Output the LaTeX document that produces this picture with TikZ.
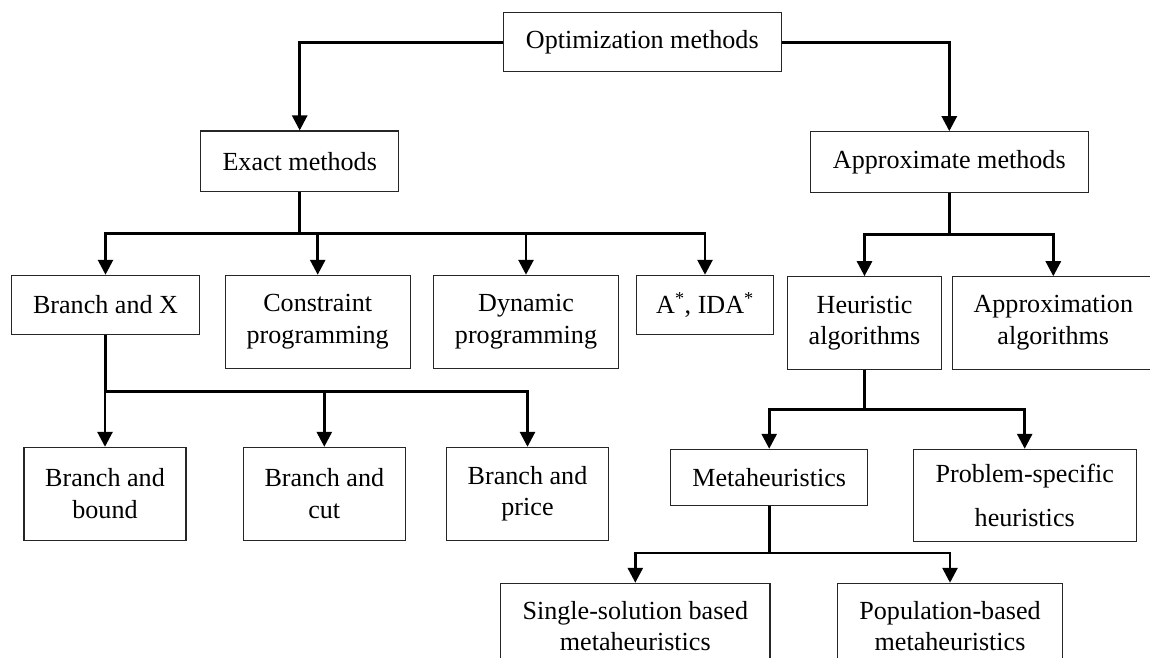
\documentclass[tikz,border=0pt]{standalone}
\usepackage{fontspec}
\setmainfont{Liberation Serif}
\usetikzlibrary{arrows.meta}
\begin{document}
\begin{tikzpicture}[x=1pt,y=-1pt,
  box/.style={draw=black!85, line width=1.1pt, inner sep=0pt, align=center,
              font=\fontsize{26.1}{31.5}\selectfont},
  link/.style={line width=2.8pt, line join=miter,
               -{Triangle[length=15pt,width=15pt]}}]
\useasboundingbox (0,0) rectangle (1150,657);
\clip (0,0) rectangle (1150,657);

% root and first level
\node[box, minimum width=278pt, minimum height=59pt]   (opt)    at (642.3,42.2) {Optimization methods};
\node[box, minimum width=198pt, minimum height=60.7pt] (exact)  at (299.7,161.3) {Exact methods};
\node[box, minimum width=278pt, minimum height=60.6pt] (approx) at (949.3,162) {Approximate methods};

% exact methods
\node[box, minimum width=187.6pt, minimum height=59pt] (bx)    at (105.5,304.8) {Branch and X};
\node[box, minimum width=184.7pt, minimum height=93pt] (cp)    at (317.7,321.8) {Constraint\\programming};
\node[box, minimum width=185.4pt, minimum height=93pt] (dp)    at (526,321.8) {Dynamic\\programming};
\node[box, minimum width=136.6pt, minimum height=59pt] (astar) at (705,304.8) {A\textsuperscript{*}, IDA\textsuperscript{*}};

% approximate methods
\node[box, minimum width=154.4pt, minimum height=92.6pt] (heur)   at (864.5,323) {Heuristic\\algorithms};
\node[box, minimum width=202pt,   minimum height=92.3pt] (apxalg) at (1053.3,322.9) {Approximation\\algorithms};

% branch and X family
\node[box, minimum width=162pt,   minimum height=92.7pt] (bb) at (105,493.7) {Branch and\\bound};
\node[box, minimum width=162pt,   minimum height=92.7pt] (bc) at (324.3,493.7) {Branch and\\cut};
\node[box, minimum width=161.6pt, minimum height=92.7pt] (bp) at (527.5,493.7) {Branch and\\price};

% heuristics
\node[box, minimum width=197pt,   minimum height=56pt]   (meta) at (769.2,477.3) {Metaheuristics};
\node[box, minimum width=222.7pt, minimum height=92.4pt] (psh)  at (1024.7,495.5) {Problem-specific\\[13pt]heuristics};

% metaheuristics (boxes run past the lower edge)
\node[box, minimum width=269.3pt, minimum height=86pt] (single) at (635.3,626.3) {Single-solution based\\metaheuristics};
\node[box, minimum width=225.4pt, minimum height=86pt] (pop)    at (950,626.3) {Population-based\\metaheuristics};

% connectors
\draw[link] (opt.west) -| (exact.north);
\draw[link] (opt.east) -| (approx.north);

\foreach \c in {bx,cp,dp,astar}
  \draw[link] (exact.south) -- ++(0,41.6) -| (\c.north);
\foreach \c in {heur,apxalg}
  \draw[link] (approx.south) -- ++(0,42) -| (\c.north);
\foreach \c in {bb,bc,bp}
  \draw[link] (bx.south) -- ++(0,56.7) -| (\c.north);
\foreach \c in {meta,psh}
  \draw[link] (heur.south) -- ++(0,40) -| (\c.north);
\foreach \c in {single,pop}
  \draw[link] (meta.south) -- ++(0,47.2) -| (\c.north);
\end{tikzpicture}
\end{document}
